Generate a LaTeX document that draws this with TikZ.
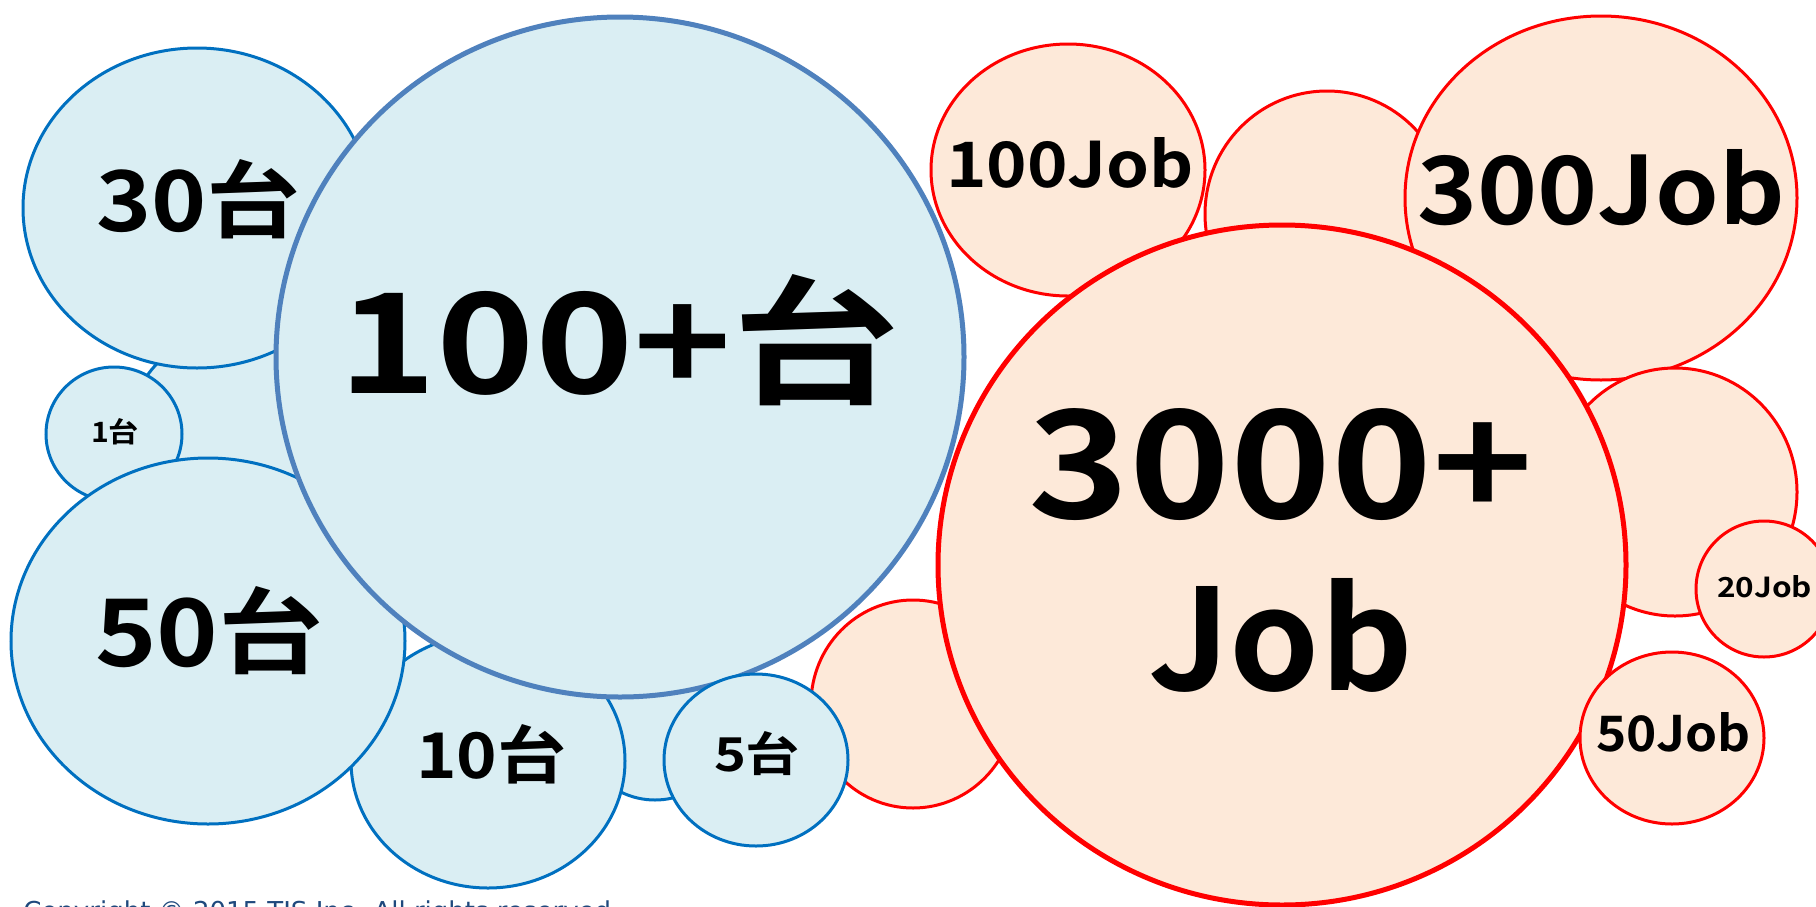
\documentclass[tikz,border=0pt]{standalone}
\usepackage{fontspec}
\usetikzlibrary{shapes.geometric}
\newfontfamily\lblfont{Noto Sans CJK JP Bold}
\newfontfamily\copyfont{DejaVu Sans}
\definecolor{bfill}{HTML}{DAEEF3}
\definecolor{bline}{HTML}{0070C0}
\definecolor{bbig}{HTML}{4F81BD}
\definecolor{rfill}{HTML}{FDE9D9}
\definecolor{rline}{HTML}{FF0000}
\definecolor{copyc}{HTML}{1F497D}
\tikzset{
  bub/.style 2 args={ellipse, inner sep=0pt, outer sep=0pt, minimum width=#1pt, minimum height=#2pt},
  bubblue/.style={draw=bline, fill=bfill, line width=1.5pt},
  bubbluebig/.style={draw=bbig, fill=bfill, line width=2.5pt},
  bubred/.style={draw=rline, fill=rfill, line width=1.5pt},
  bubredbig/.style={draw=rline, fill=rfill, line width=2.5pt},
  lbl/.style={anchor=base west, inner sep=0pt, outer sep=0pt, font=\lblfont, text=black},
}
\begin{document}
\begin{tikzpicture}[x=0.5pt, y=-0.5pt]
\useasboundingbox (0,0) rectangle (1816,906);
\fill[white] (0,0) rectangle (1816,906);
% red hidden left
\node[bubred, bub={102}{104}] (rg) at (913,704) {};
% blue group
\node[bubblue, bub={95}{95}] (bx1) at (225,430) {};
\node[bubblue, bub={174}{160}] (c30) at (197,208) {};
\node[bubblue, bub={68}{67}] (c1) at (114,434) {};
\node[bubblue, bub={85}{95}] (bx2) at (655,705) {};
\node[bubblue, bub={137}{127}] (c10) at (488,761) {};
\node[bubblue, bub={197}{183}] (c50) at (208,641) {};
\node[bubbluebig, bub={344}{340}] (c100) at (620,357) {};
\node[bubblue, bub={92}{86}] (c5) at (756,760) {};
% red group
\node[bubred, bub={137}{126}] (j100) at (1068,170) {};
\node[bubred, bub={122}{123}] (rj) at (1327,214) {};
\node[bubred, bub={196}{182}] (j300) at (1601,198) {};
\node[bubred, bub={122}{124}] (rl) at (1675,492) {};
\node[bubredbig, bub={344}{340}] (j3000) at (1282,565) {};
\node[bubred, bub={68}{68}] (j20) at (1764,589) {};
\node[bubred, bub={92}{86}] (j50) at (1672,738) {};
% labels
\node[lbl] (l30) at (96,231) {\resizebox{102pt}{36pt}{30台}};
\node[lbl] (l100) at (338,393) {\resizebox{280.5pt}{59.5pt}{100+台}};
\node[lbl] (l1) at (91,442) {\resizebox{24pt}{12pt}{1台}};
\node[lbl] (l50) at (95,666) {\resizebox{114pt}{40pt}{50台}};
\node[lbl] (l10) at (416,778) {\resizebox{75pt}{27pt}{10台}};
\node[lbl] (l5) at (714,771) {\resizebox{43pt}{20pt}{5台}};
\node[lbl] (lj100) at (946,187) {\resizebox{124pt}{25pt}{100Job}};
\node[lbl] (lj300) at (1417,224) {\resizebox{184pt}{37.5pt}{300Job}};
\node[lbl] (lj3000) at (1028,518) {\resizebox{252.5pt}{55pt}{3000+}};
\node[lbl] (ljob) at (1148,690) {\resizebox{132.5pt}{56pt}{Job}};
\node[lbl] (lj20) at (1717,597) {\resizebox{47.5pt}{11pt}{20Job}};
\node[lbl] (lj50) at (1596,751) {\resizebox{77.5pt}{19.5pt}{50Job}};
% copyright
\node[anchor=north west, inner sep=0pt, font=\copyfont, text=copyc] (copy) at (23,900)
  {\resizebox{298pt}{!}{Copyright © 2015 TIS Inc. All rights reserved.}};
\end{tikzpicture}
\end{document}
